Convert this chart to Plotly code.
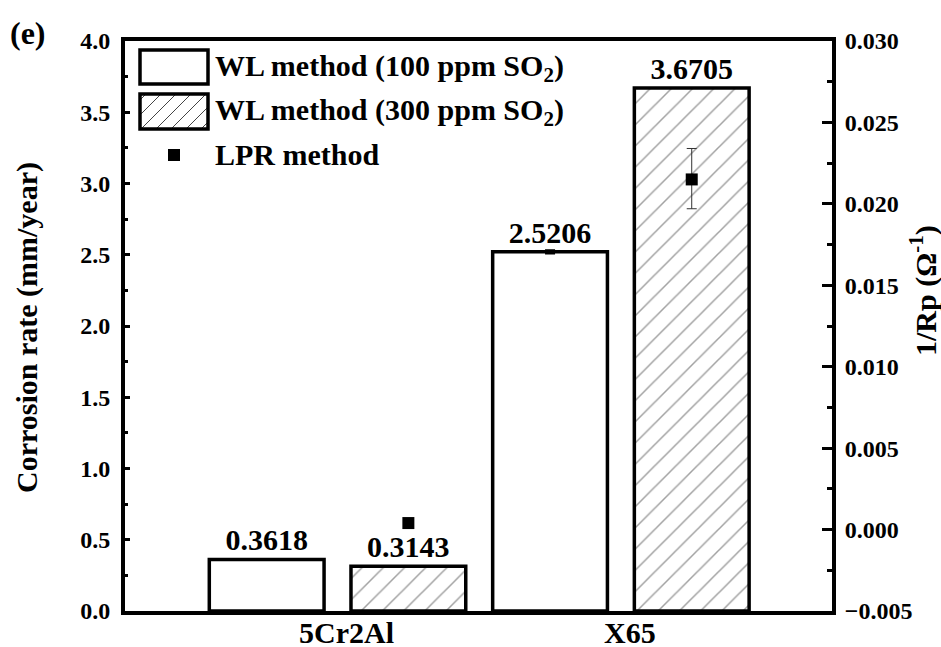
import numpy as np
import plotly.graph_objects as go

# ---- data ----
categories = ["5Cr2Al", "X65"]
wl_100 = [0.3618, 2.5206]
wl_300 = [0.3143, 3.6705]
wl_100_err = [0.0, 0.008]
lpr_rp = [0.0004, 0.0215]
lpr_err_plus = [0.0, 0.0019]
lpr_err_minus = [0.0, 0.0018]
left_range = [0, 4.0]
right_range = [-0.005, 0.030]

FONT = "Liberation Serif"
BLACK = "black"
HATCH = "#444444"
idx = np.arange(len(categories))
OFF = 0.25
BW = 0.405

fig = go.Figure()
fig.add_trace(go.Bar(
    x=idx - OFF, y=wl_100, width=BW, name="WL method (100 ppm SO<sub>2</sub>)",
    marker=dict(color="white", line=dict(color=BLACK, width=3.5)),
    error_y=dict(type="data", array=wl_100_err, color=BLACK, thickness=3, width=5),
    text=[f"{v:.4f}" for v in wl_100], textposition="outside",
    textfont=dict(family=FONT, size=30, color=BLACK, weight="bold"),
    constraintext="none", cliponaxis=False, showlegend=False,
))
fig.add_trace(go.Bar(
    x=idx + OFF, y=wl_300, width=BW, name="WL method (300 ppm SO<sub>2</sub>)",
    marker=dict(color="white", line=dict(color=BLACK, width=3.5),
                pattern=dict(shape="/", fgcolor=HATCH, bgcolor="white",
                             size=15, solidity=0.1)),
    text=[f"{v:.4f}" for v in wl_300], textposition="outside",
    textfont=dict(family=FONT, size=30, color=BLACK, weight="bold"),
    constraintext="none", cliponaxis=False, showlegend=False,
))
fig.add_trace(go.Scatter(
    x=idx + OFF, y=lpr_rp, yaxis="y2", mode="markers", name="LPR method",
    marker=dict(symbol="square", size=12, color=BLACK),
    error_y=dict(type="data", array=lpr_err_plus, arrayminus=lpr_err_minus,
                 color="#333333", thickness=1, width=5),
    showlegend=False, cliponaxis=False,
))

# ---- plot geometry (px) for legend drawing ----
W, H = 941, 647
L, R, T, B = 125, 109, 41, 36
PW, PH = W - L - R, H - T - B

def px(xp):
    return (xp - L) / PW

def py(yp):
    return (H - B - yp) / PH

shapes = []
annotations = []
# legend box 1
shapes.append(dict(type="rect", xref="paper", yref="paper",
                   x0=px(140), x1=px(208), y0=py(84), y1=py(50),
                   line=dict(color=BLACK, width=3.5), fillcolor="white", layer="above"))
# legend box 2 with hatch lines
bx0, bx1, by0, by1 = 140, 208, 94, 129
hh = by1 - by0
step = 15
s = bx0 - hh + 6
while s < bx1:
    xa, ya = s, by1
    xb, yb = s + hh, by0
    if xa < bx0:
        ya = by1 - (bx0 - xa)
        xa = bx0
    if xb > bx1:
        yb = by0 + (xb - bx1)
        xb = bx1
    if xb > xa:
        shapes.append(dict(type="line", xref="paper", yref="paper",
                           x0=px(xa), y0=py(ya), x1=px(xb), y1=py(yb),
                           line=dict(color=HATCH, width=1), layer="above"))
    s += step
shapes.append(dict(type="rect", xref="paper", yref="paper",
                   x0=px(bx0), x1=px(bx1), y0=py(by1), y1=py(by0),
                   line=dict(color=BLACK, width=3.5), layer="above"))
# legend marker
shapes.append(dict(type="rect", xref="paper", yref="paper",
                   x0=px(168), x1=px(180), y0=py(161), y1=py(149),
                   line=dict(width=0), fillcolor=BLACK, layer="above"))

leg_font = dict(family=FONT, size=30, color=BLACK, weight="bold")
for txt, yc in [("WL method (100 ppm SO<sub>2</sub>)", 68),
                ("WL method (300 ppm SO<sub>2</sub>)", 112),
                ("LPR method", 155)]:
    annotations.append(dict(text=txt, xref="paper", yref="paper", x=px(213), y=py(yc),
                            xanchor="left", yanchor="middle", showarrow=False, font=leg_font))

# category labels under the x axis, positioned on the x scale
for i, cat in zip(idx, categories):
    annotations.append(dict(text=cat, xref="x", yref="paper", x=float(i), y=0,
                            xanchor="center", yanchor="middle", xshift=9, yshift=-21,
                            showarrow=False,
                            font=dict(family=FONT, size=30, color=BLACK, weight="bold")))

title_font = dict(family=FONT, size=30, color=BLACK, weight="bold")
annotations.append(dict(text="(e)", xref="paper", yref="paper", x=px(8), y=py(33),
                        xanchor="left", yanchor="middle", showarrow=False,
                        font=dict(family=FONT, size=32, color=BLACK, weight="bold")))
annotations.append(dict(text="Corrosion rate (mm/year)", xref="paper", yref="paper",
                        x=px(27), y=py(328), xanchor="center", yanchor="middle",
                        textangle=-90, showarrow=False, font=title_font))
annotations.append(dict(text="1/Rp (Ω<sup>-1</sup>)", xref="paper", yref="paper",
                        x=px(923), y=py(290), xanchor="center", yanchor="middle",
                        textangle=-90, showarrow=False, font=title_font))

tick_font = dict(family=FONT, size=24, color=BLACK, weight="bold")
fig.update_layout(
    width=W, height=H,
    margin=dict(l=L, r=R, t=T, b=B, pad=0, autoexpand=False),
    paper_bgcolor="white", plot_bgcolor="white",
    showlegend=False,
    shapes=shapes, annotations=annotations,
    xaxis=dict(range=[-0.75, 1.745], tickvals=idx, ticktext=categories,
               showticklabels=False,
               ticks="", showgrid=False, zeroline=False, automargin=False,
               showline=True, linecolor=BLACK, linewidth=4, mirror=True),
    yaxis=dict(range=left_range, dtick=0.5, tickformat=".1f", automargin=False,
               ticks="inside", ticklen=5, tickwidth=3, tickcolor=BLACK,
               minor=dict(dtick=0.25, ticks="inside", ticklen=3, tickwidth=3, tickcolor=BLACK),
               showgrid=False, zeroline=False,
               showline=True, linecolor=BLACK, linewidth=4,
               tickfont=tick_font, ticklabelstandoff=6),
    yaxis2=dict(range=right_range, dtick=0.005, tickformat=".3f", automargin=False,
                overlaying="y", side="right",
                ticks="inside", ticklen=10, tickwidth=3, tickcolor=BLACK,
                minor=dict(dtick=0.0025, ticks="inside", ticklen=5, tickwidth=3, tickcolor=BLACK),
                showgrid=False, zeroline=False,
                showline=True, linecolor=BLACK, linewidth=4,
                tickfont=tick_font, ticklabelstandoff=4),
)

fig.write_html("out.html", config={"displayModeBar": False},
               post_script="document.body.style.margin='0';document.body.style.overflow='hidden';")
